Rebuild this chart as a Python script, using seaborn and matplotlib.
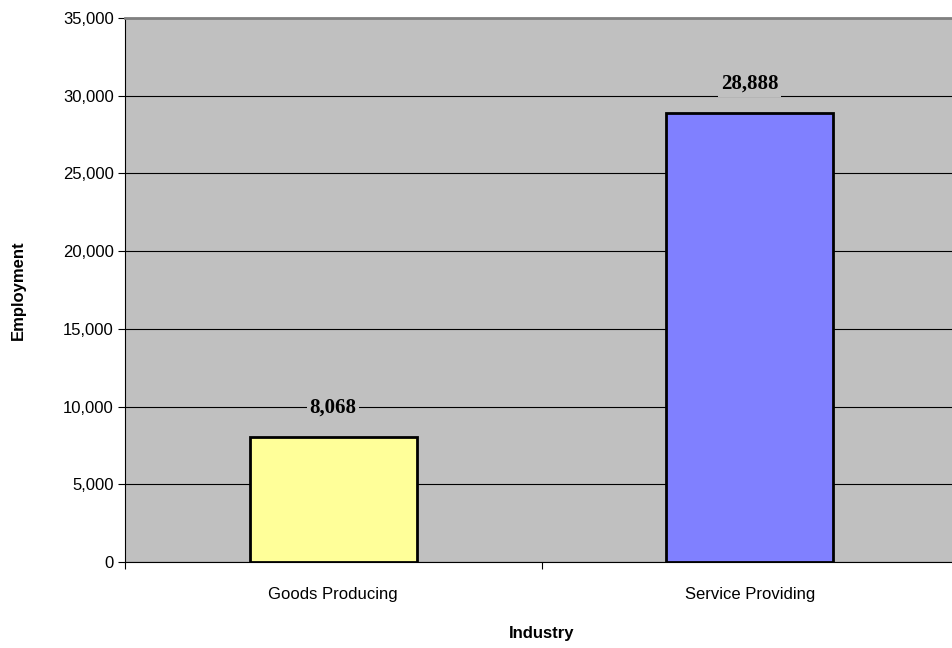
import pandas as pd
import seaborn as sns
import matplotlib.pyplot as plt
from matplotlib.ticker import FuncFormatter, FixedLocator

# Data
industries = ['Goods Producing', 'Service Providing']
employment = [8068, 28888]
bar_colors = ['#FFFF99', '#8080FF']

df = pd.DataFrame({'Industry': industries, 'Employment': employment})

sns.set_style('white')
plt.rcParams['font.family'] = ['Liberation Sans', 'DejaVu Sans']
plt.rcParams['text.color'] = 'black'
plt.rcParams['axes.labelcolor'] = 'black'
plt.rcParams['xtick.color'] = 'black'
plt.rcParams['ytick.color'] = 'black'

fig = plt.figure(figsize=(9.52, 6.48), dpi=100)
ax = fig.add_axes([125 / 952, 86 / 648, 833 / 952, 544 / 648])
ax.set_facecolor('#C0C0C0')

sns.barplot(data=df, x='Industry', y='Employment', hue='Industry',
            palette=bar_colors, saturation=1, width=0.4, edgecolor='black',
            linewidth=2, legend=False, ax=ax, zorder=3)

ax.set_xlim(-0.5, 1.5)
ax.set_ylim(0, 35000)
ax.yaxis.set_major_locator(FixedLocator(range(0, 35001, 5000)))
ax.yaxis.set_major_formatter(FuncFormatter(lambda v, p: f'{int(v):,}'))
ax.grid(axis='y', color='black', linewidth=0.8, zorder=0)
ax.set_axisbelow(True)

# x ticks at category boundaries, labels at centers
ax.set_xticks([-0.5, 0.5, 1.5])
ax.set_xticklabels([])
ax.set_xticks([0, 1], minor=True)
ax.set_xticklabels(industries, minor=True)
ax.tick_params(axis='x', which='minor', bottom=False, length=0, pad=18, labelsize=12)
ax.tick_params(axis='x', which='major', bottom=True, direction='out', length=5, width=0.8)
ax.tick_params(axis='y', left=True, direction='out', length=5, width=0.8,
               labelsize=12, pad=3)

ax.spines['right'].set_visible(False)
ax.spines['top'].set_color('#808080')
ax.spines['top'].set_linewidth(2)
ax.spines['left'].set_color('black')
ax.spines['bottom'].set_color('black')

for i, v in enumerate(employment):
    ax.annotate(f'{v:,}', xy=(i, v), xytext=(0, 29), textcoords='offset pixels',
                ha='center', va='center', fontsize=15, fontweight='bold',
                family=['Liberation Serif', 'DejaVu Serif'],
                bbox=dict(facecolor='#C0C0C0', edgecolor='none', pad=2), zorder=4)

ax.set_xlabel('Industry', fontsize=12, fontweight='bold', labelpad=17)
ax.set_ylabel('Employment', fontsize=12, fontweight='bold', labelpad=27)

fig.savefig('out.png', dpi=100)
